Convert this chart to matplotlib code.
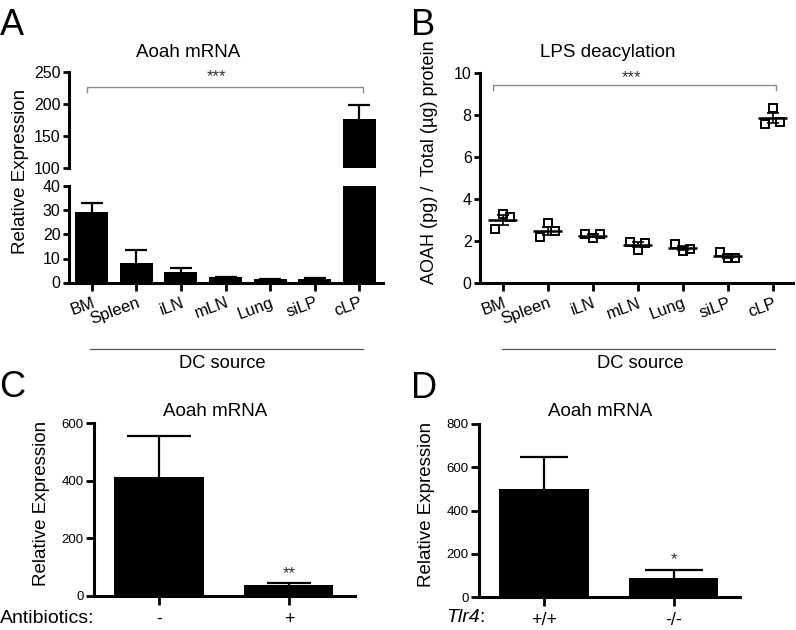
import matplotlib
matplotlib.use('Agg')
import matplotlib.pyplot as plt
import numpy as np
from matplotlib.lines import Line2D

plt.rcParams['font.family'] = ['Liberation Sans', 'DejaVu Sans']

# ---------------- data ----------------
sources = ['BM', 'Spleen', 'iLN', 'mLN', 'Lung', 'siLP', 'cLP']
aoah_mean = [29.3, 8.0, 4.4, 2.3, 1.3, 1.6, 175.5]
aoah_sem = [3.8, 5.5, 1.7, 0.2, 0.2, 0.2, 23.0]

lps_left = [2.56, 2.18, 2.32, 1.97, 1.86, 1.49, 7.60]
lps_mid = [3.29, 2.84, 2.13, 1.57, 1.54, 1.18, 8.35]
lps_right = [3.16, 2.49, 2.32, 1.92, 1.62, 1.21, 7.68]

abx_labels = ['-', '+']
abx_mean = [413, 38]
abx_sem = [142, 7]

tlr4_labels = ['+/+', '-/-']
tlr4_mean = [499, 88]
tlr4_sem = [149, 37]

# ---------------- layout helpers ----------------
W, H = 796, 630


def px_rect(x0, x1, ytop, ybot):
    return [x0 / W, 1 - ybot / H, (x1 - x0) / W, (ybot - ytop) / H]


fig = plt.figure(figsize=(W / 100, H / 100), dpi=100)


def ftext(x, y, s, **kw):
    return fig.text(x / W, 1 - y / H, s, **kw)


def fline(x0, x1, y, **kw):
    fig.add_artist(Line2D([x0 / W, x1 / W], [1 - y / H, 1 - y / H], **kw))


def style(ax, ysize=11.5, lw=2.2):
    for s in ['top', 'right']:
        ax.spines[s].set_visible(False)
    for s in ['left', 'bottom']:
        ax.spines[s].set_linewidth(lw)
    ax.tick_params(axis='both', direction='out', length=4.5, width=2, colors='black')
    ax.tick_params(axis='y', labelsize=ysize, pad=1.5)


def upper_err(ax, xs, ms, ss, capsize, lw=1.6):
    eb = ax.errorbar(xs, ms, yerr=[np.zeros(len(ms)), ss], fmt='none', ecolor='black',
                     elinewidth=lw, capsize=capsize, capthick=lw, zorder=1)
    # hide the lower caps (at the bar tops) - one-sided SEM bars
    caps = eb[1]
    if len(caps) >= 2:
        caps[0].set_visible(False)
    return eb


axA_lo = fig.add_axes(px_rect(69, 383, 186.5, 282.5))
axA_hi = fig.add_axes(px_rect(69, 383, 71.7, 167.7))
axB = fig.add_axes(px_rect(480, 793, 73.3, 283))
axC = fig.add_axes(px_rect(94, 355, 423.3, 596))
axD = fig.add_axes(px_rect(479, 740, 424, 597.3))

# ---------------- Panel A ----------------
x = np.arange(len(sources))
for ax in (axA_lo, axA_hi):
    style(ax)
    ax.bar(x, aoah_mean, width=0.74, color='black', zorder=2)
    upper_err(ax, x, aoah_mean, aoah_sem, capsize=8)
    ax.set_xlim(-0.51, 6.53)

axA_lo.set_ylim(0, 40)
axA_lo.set_yticks([0, 10, 20, 30, 40])
axA_lo.set_xticks(x)
axA_lo.set_xticklabels(sources, rotation=20, ha='right', va='top',
                       rotation_mode='anchor', fontsize=12)
axA_lo.tick_params(axis='x', pad=3, length=6)

axA_hi.set_ylim(100, 250)
axA_hi.set_yticks([100, 150, 200, 250])
axA_hi.spines['bottom'].set_visible(False)
axA_hi.set_xticks([])

axA_hi.plot([x[0] - 0.1, x[0] - 0.1, x[-1] + 0.09, x[-1] + 0.09],
            [217.7, 226, 226, 217.7], color='#8a8a8a', lw=1, clip_on=False)
axA_hi.text(2.8, 242, '***', ha='center', va='center', fontsize=12, color='#333333')

# ---------------- Panel B ----------------
style(axB)
offs = [-0.17, 0.0, 0.17]
for off, vals in zip(offs, [lps_left, lps_mid, lps_right]):
    axB.plot(x + off, vals, ls='none', marker='s', ms=6, mfc='none',
             mec='black', mew=1.4, zorder=3)
allv = np.array([lps_left, lps_mid, lps_right])
means = allv.mean(axis=0)
sems = allv.std(axis=0, ddof=1) / np.sqrt(3)
axB.hlines(means, x - 0.32, x + 0.32, color='black', lw=1.8, zorder=4)
axB.errorbar(x, means, yerr=sems, fmt='none', ecolor='black', elinewidth=1.2,
             capsize=4.5, capthick=1.2, zorder=4)
axB.set_xlim(-0.504, 6.45)
axB.set_ylim(0, 10)
axB.set_yticks([0, 2, 4, 6, 8, 10])
axB.set_xticks(x)
axB.set_xticklabels(sources, rotation=20, ha='right', va='top',
                    rotation_mode='anchor', fontsize=12)
axB.tick_params(axis='x', pad=3, length=6)
axB.plot([x[0] - 0.21, x[0] - 0.21, x[-1] + 0.07, x[-1] + 0.07],
         [9.19, 9.46, 9.46, 9.19], color='#8a8a8a', lw=1, clip_on=False)
axB.text(2.87, 9.78, '***', ha='center', va='center', fontsize=12, color='#333333')

# ---------------- Panels C and D ----------------
xc = np.arange(2)
for ax, labels, m, s, ylim, yt, caps in [
        (axC, abx_labels, abx_mean, abx_sem, 600, [0, 200, 400, 600], [23, 16]),
        (axD, tlr4_labels, tlr4_mean, tlr4_sem, 800, [0, 200, 400, 600, 800], [17, 21])]:
    style(ax, ysize=9.5)
    ax.bar(xc, m, width=0.685, color='black', zorder=2)
    for i in range(2):
        upper_err(ax, [xc[i]], [m[i]], [s[i]], capsize=caps[i])
    ax.set_xlim(-0.5, 1.508)
    ax.set_ylim(0, ylim)
    ax.set_yticks(yt)
    ax.set_xticks(xc)
    ax.set_xticklabels(labels, fontsize=13)
    ax.tick_params(axis='x', pad=4, length=6.5)
    ax.tick_params(axis='y', length=6)

axC.text(1, 78, '**', ha='center', va='center', fontsize=12, color='#333333')
axD.text(1, 172, '*', ha='center', va='center', fontsize=12, color='#333333')

# ---------------- text ----------------
ftext(0, 35, 'A', fontsize=26, va='baseline', ha='left')
ftext(411, 35, 'B', fontsize=26, va='baseline', ha='left')
ftext(-1, 397, 'C', fontsize=26, va='baseline', ha='left')
ftext(411, 398, 'D', fontsize=26, va='baseline', ha='left')

ftext(188, 57.3, 'Aoah mRNA', ha='center', va='baseline', fontsize=13.5)
ftext(607.5, 56.7, 'LPS deacylation', ha='center', va='baseline', fontsize=13.5)
ftext(215, 416, 'Aoah mRNA', ha='center', va='baseline', fontsize=13.5)
ftext(600, 416, 'Aoah mRNA', ha='center', va='baseline', fontsize=13.5)

ftext(20.5, 171, 'Relative Expression', rotation=90, ha='center', va='center', fontsize=13.5)
ftext(430, 162, 'AOAH (pg) /  Total (\u00b5g) protein', rotation=90, ha='center',
      va='center', fontsize=13)
ftext(41.7, 503, 'Relative Expression', rotation=90, ha='center', va='center', fontsize=13.5)
ftext(426.7, 504, 'Relative Expression', rotation=90, ha='center', va='center', fontsize=13.5)

fline(90, 363, 349, color='#555555', lw=0.9)
fline(502, 775, 349, color='#555555', lw=0.9)
ftext(222, 368, 'DC source', ha='center', va='baseline', fontsize=13.2)
ftext(640, 368, 'DC source', ha='center', va='baseline', fontsize=13.2)

ftext(0, 623, 'Antibiotics:', ha='left', va='baseline', fontsize=14)
ftext(446, 622, 'Tlr4', ha='left', va='baseline', fontsize=14, style='italic')
ftext(479, 622, ':', ha='left', va='baseline', fontsize=14)

fig.savefig('out.png', dpi=100)
